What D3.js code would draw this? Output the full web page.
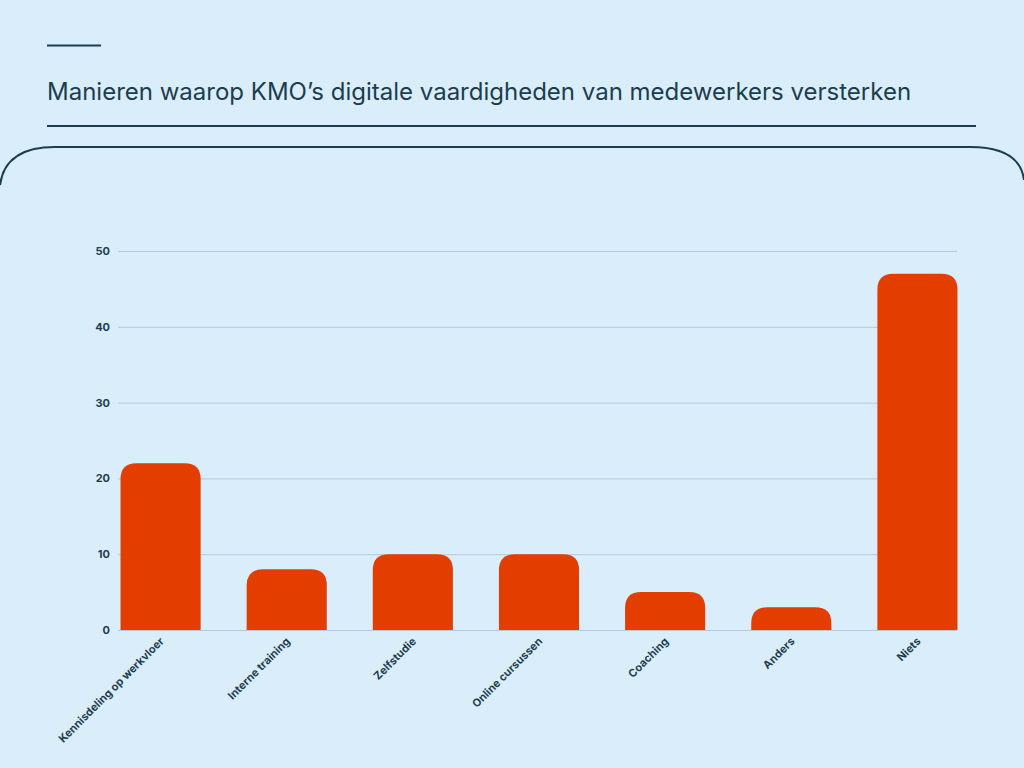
<!DOCTYPE html>
<html><head><meta charset="utf-8">
<script src="https://cdn.jsdelivr.net/npm/d3@7"></script>
<style>body{margin:0;background:#daedfa;}svg{display:block;font-family:Inter,"Open Sans",sans-serif;}</style>
</head><body><svg id="chart" width="1024" height="768"></svg>
<script>
var categories = ["Kennisdeling op werkvloer","Interne training","Zelfstudie","Online cursussen","Coaching","Anders","Niets"];
var values = [22, 8, 10, 10, 5, 3, 47];
var yTicks = [0, 10, 20, 30, 40, 50];

var ink = "#1c3d50", barColor = "#e33d00";
var svg = d3.select("#chart");
svg.append("rect").attr("width",1024).attr("height",768).attr("fill","#daedfa");

// header
svg.append("line").attr("x1",47).attr("x2",101).attr("y1",45.5).attr("y2",45.5).attr("stroke",ink).attr("stroke-width",2);
svg.append("text").attr("x",47).attr("y",100).attr("fill",ink).attr("font-size",24)
  .text("Manieren waarop KMO’s digitale vaardigheden van medewerkers versterken");
svg.append("line").attr("x1",47).attr("x2",976).attr("y1",126).attr("y2",126).attr("stroke",ink).attr("stroke-width",2);

// panel outline
svg.append("path").attr("d","M0,185 Q5,147 55,147 L970,147 Q1020,147 1024,180")
  .attr("fill","none").attr("stroke",ink).attr("stroke-width",2);

var x = d3.scaleBand().domain(categories).range([118, 960]).paddingInner(0.365).paddingOuter(0.02);
var y = d3.scaleLinear().domain([0, 50]).range([630, 251]);

var g = svg.append("g");
g.selectAll(".grid").data(yTicks).join("line")
  .attr("x1",118).attr("x2",957).attr("y1",d=>y(d)+0.5).attr("y2",d=>y(d)+0.5)
  .attr("stroke","#b3c9d8").attr("stroke-width",1);
g.selectAll(".yl").data(yTicks).join("text")
  .attr("x",110).attr("y",d=>y(d)+4).attr("text-anchor","end")
  .attr("font-size",11).attr("font-weight",700).attr("fill",ink).text(d=>d);

function barPath(d, i) {
  var x0 = x(categories[i]), w = x.bandwidth(), y0 = y(d), b = y(0);
  var r = Math.min(16, (b - y0));
  return "M"+x0+","+b+"V"+(y0+r)+"Q"+x0+","+y0+" "+(x0+r)+","+y0+
    "H"+(x0+w-r)+"Q"+(x0+w)+","+y0+" "+(x0+w)+","+(y0+r)+"V"+b+"Z";
}
g.selectAll(".bar").data(values).join("path").attr("d",barPath).attr("fill",barColor);

g.selectAll(".xl").data(categories).join("text")
  .attr("transform",d=>"translate("+(x(d)+x.bandwidth()/2+4)+",642) rotate(-45)")
  .attr("text-anchor","end").attr("font-size",11).attr("font-weight",700).attr("fill",ink).text(d=>d);
</script></body></html>
